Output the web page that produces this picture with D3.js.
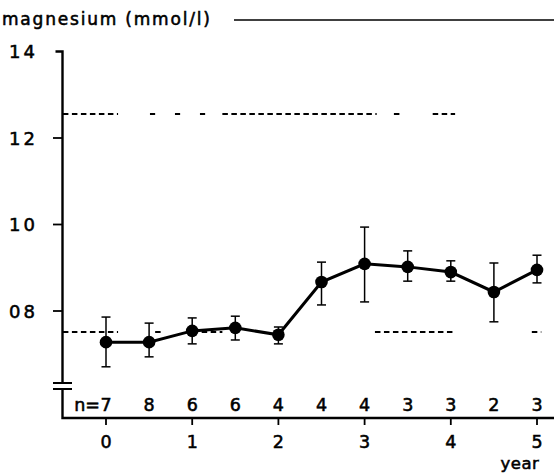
<!DOCTYPE html>
<html>
<head>
<meta charset="utf-8">
<script src="https://cdn.jsdelivr.net/npm/d3@7"></script>
<style>
  html, body { margin: 0; padding: 0; background: #fff; }
  svg { display: block; font-family: "DejaVu Sans", sans-serif; }
  svg text { stroke: #000; stroke-width: 0.55px; }
</style>
</head>
<body>
<svg id="chart" width="554" height="473"></svg>
<script>
// values (mmol/l)
const years = [0, 0.5, 1, 1.5, 2, 2.5, 3, 3.5, 4, 4.5, 5];
const means = [0.728, 0.728, 0.754, 0.761, 0.745, 0.867, 0.909, 0.902, 0.890, 0.844, 0.895];
const upper = [0.786, 0.772, 0.784, 0.788, 0.763, 0.913, 0.994, 0.939, 0.916, 0.911, 0.929];
const lower = [0.671, 0.694, 0.724, 0.733, 0.724, 0.814, 0.821, 0.869, 0.869, 0.775, 0.865];
const nCounts = [7, 8, 6, 6, 4, 4, 4, 3, 3, 2, 3];
const yTicks = [0.8, 1.0, 1.2, 1.4];
const yTickLabels = ["08", "10", "12", "14"];
const xTicks = [0, 1, 2, 3, 4, 5];

// dashed reference lines, broken into pieces (year ranges)
const refHigh = 1.2555;
const refHighSegs = [[-0.5, 0.14], [0.51, 0.57], [0.80, 0.86], [1.09, 1.15], [1.35, 3.14], [3.34, 3.43], [3.79, 4.05]];
const refLow = 0.7514;
const refLowSegs = [[-0.5, 0.14], [0.57, 0.65], [1.11, 1.35], [3.12, 4.05], [4.94, 5.05]];

const svg = d3.select("#chart");

const x = d3.scaleLinear().domain([0, 5]).range([106, 537]);
const y = d3.scaleLinear().domain([0.8, 1.4]).range([311, 51.5]);

const axisX = 62.5;
const baseY = 418;

// title + rule
svg.append("text")
  .attr("x", 2).attr("y", 25)
  .attr("font-size", 17)
  .attr("letter-spacing", 1.8)
  .text("magnesium (mmol/l)");
svg.append("line")
  .attr("x1", 234).attr("x2", 554).attr("y1", 20).attr("y2", 20)
  .attr("stroke", "#000").attr("stroke-width", 1.6);

// y axis with break
const ax = svg.append("g").attr("stroke", "#000").attr("fill", "none");
ax.append("path")
  .attr("d", `M${axisX - 7},${y(1.4)}H${axisX}V383`)
  .attr("stroke-width", 2.4);
ax.append("path")
  .attr("d", `M${axisX},389V${baseY}H554`)
  .attr("stroke-width", 2.4);
ax.append("line").attr("x1", 53).attr("x2", 72).attr("y1", 383).attr("y2", 383).attr("stroke-width", 2);
ax.append("line").attr("x1", 53).attr("x2", 72).attr("y1", 389).attr("y2", 389).attr("stroke-width", 2);

ax.selectAll(".ytick").data(yTicks.slice(0, 3)).enter().append("line")
  .attr("x1", 53).attr("x2", axisX)
  .attr("y1", d => y(d)).attr("y2", d => y(d))
  .attr("stroke-width", 1.8);

svg.selectAll(".ylab").data(yTicks).enter().append("text")
  .attr("x", 38).attr("y", d => y(d) + 6.5)
  .attr("text-anchor", "end")
  .attr("font-size", 18)
  .attr("letter-spacing", 3)
  .text((d, i) => yTickLabels[i]);

// x ticks and labels
ax.selectAll(".xtick").data(xTicks).enter().append("line")
  .attr("x1", d => x(d)).attr("x2", d => x(d))
  .attr("y1", baseY).attr("y2", baseY + 7)
  .attr("stroke-width", 1.8);

svg.selectAll(".xlab").data(xTicks).enter().append("text")
  .attr("x", d => x(d)).attr("y", 448)
  .attr("text-anchor", "middle")
  .attr("font-size", 17.5)
  .text(d => d);

svg.append("text")
  .attr("x", 520).attr("y", 469)
  .attr("text-anchor", "middle")
  .attr("font-size", 16.5)
  .attr("letter-spacing", 0.5)
  .text("year");

// n per time point
svg.selectAll(".nlab").data(nCounts).enter().append("text")
  .attr("x", (d, i) => x(years[i]))
  .attr("y", 411)
  .attr("text-anchor", "middle")
  .attr("font-size", 17.5)
  .text(d => d);
svg.append("text")
  .attr("x", x(0) - 6).attr("y", 411)
  .attr("text-anchor", "end")
  .attr("font-size", 17.5)
  .text("n=");

// dashed reference lines
function dashed(val, segs) {
  svg.append("g").selectAll("line").data(segs).enter().append("line")
    .attr("x1", d => x(d[0])).attr("x2", d => x(d[1]))
    .attr("y1", y(val)).attr("y2", y(val))
    .attr("stroke", "#000").attr("stroke-width", 2)
    .attr("stroke-dasharray", "5.5,3.5");
}
dashed(refHigh, refHighSegs);
dashed(refLow, refLowSegs);

// error bars
const eb = svg.append("g").attr("stroke", "#000").attr("stroke-width", 1.5);
years.forEach((t, i) => {
  eb.append("line").attr("x1", x(t)).attr("x2", x(t)).attr("y1", y(upper[i])).attr("y2", y(lower[i]));
  eb.append("line").attr("x1", x(t) - 4.5).attr("x2", x(t) + 4.5).attr("y1", y(upper[i])).attr("y2", y(upper[i]));
  eb.append("line").attr("x1", x(t) - 4.5).attr("x2", x(t) + 4.5).attr("y1", y(lower[i])).attr("y2", y(lower[i]));
});

// mean line and points
const pts = years.map((t, i) => [t, means[i]]);
svg.append("path")
  .attr("d", d3.line().x(d => x(d[0])).y(d => y(d[1]))(pts))
  .attr("fill", "none").attr("stroke", "#000").attr("stroke-width", 3);
svg.selectAll(".pt").data(pts).enter().append("circle")
  .attr("cx", d => x(d[0])).attr("cy", d => y(d[1]))
  .attr("r", 6.3).attr("fill", "#000");
</script>
</body>
</html>
